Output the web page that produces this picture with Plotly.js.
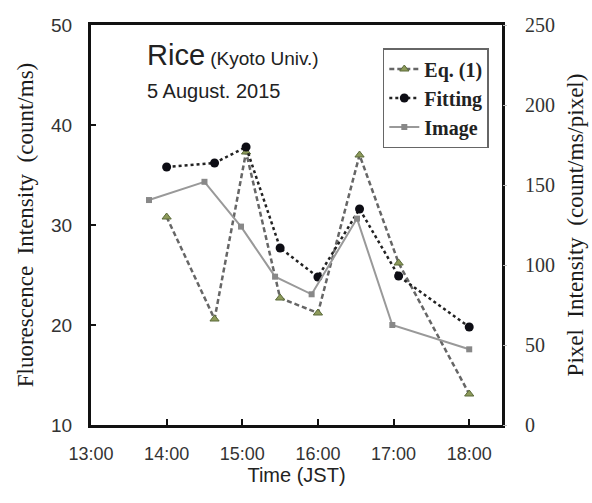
<!DOCTYPE html>
<html>
<head>
<meta charset="utf-8">
<script src="https://cdn.plot.ly/plotly-3.0.1.min.js"></script>
<style>html,body{margin:0;padding:0;background:#fff;}#chart{width:592px;height:503px;}</style>
</head>
<body>
<div id="chart"></div>
<script>
// Eq. (1) and Fitting: fluorescence intensity (count/ms), left axis
const timesModel = ['2015-08-05 14:00','2015-08-05 14:38','2015-08-05 15:03','2015-08-05 15:30','2015-08-05 16:00','2015-08-05 16:33','2015-08-05 17:04','2015-08-05 18:00'];
const eqValues   = [30.8, 20.6, 37.3, 22.7, 21.2, 37.0, 26.2, 13.1];
const fitValues  = [35.8, 36.2, 37.8, 27.7, 24.8, 31.6, 24.9, 19.8];
// Image: pixel intensity (count/ms/pixel), right axis
const timesImage = ['2015-08-05 13:46','2015-08-05 14:30','2015-08-05 14:59','2015-08-05 15:26','2015-08-05 15:55','2015-08-05 16:31','2015-08-05 16:59','2015-08-05 18:00'];
const imgValues  = [140.6, 152, 124, 92.7, 81.7, 129, 62.5, 47.3];
const leftTicks  = [10, 20, 30, 40, 50];
const rightTicks = [0, 50, 100, 150, 200, 250];

const serif = 'Liberation Serif, Times New Roman, serif';
const sans = 'Liberation Sans, Arial, sans-serif';

const traces = [
  {x: timesModel, y: eqValues, name: 'Eq. (1)', type: 'scatter', mode: 'lines+markers',
   line: {color: '#666', width: 2.5, dash: '5px,3px'},
   marker: {symbol: 'triangle-up', size: 8, color: '#8d9a5a', line: {color: '#5a6a3a', width: 1}}},
  {x: timesModel, y: fitValues, name: 'Fitting', type: 'scatter', mode: 'lines+markers',
   line: {color: '#222', width: 2.5, dash: 'dot'},
   marker: {symbol: 'circle', size: 9, color: '#0d0d14'}},
  {x: timesImage, y: imgValues, name: 'Image', type: 'scatter', mode: 'lines+markers', yaxis: 'y2',
   line: {color: '#999', width: 2},
   marker: {symbol: 'square', size: 6, color: '#888'}}
];

const layout = {
  width: 592, height: 503,
  margin: {l: 91, r: 90, t: 25, b: 78},
  paper_bgcolor: '#fff', plot_bgcolor: '#fff',
  showlegend: true,
  legend: {x: 0.71, y: 0.9425, xanchor: 'left', yanchor: 'top',
           bgcolor: '#fff', bordercolor: '#666', borderwidth: 1.5,
           font: {family: serif, size: 20, color: '#222', weight: 'bold'}, itemwidth: 30, tracegroupgap: 0},
  xaxis: {type: 'date', range: ['2015-08-05 13:00', '2015-08-05 18:26'],
          tick0: '2015-08-05 13:00', dtick: 3600000, tickformat: '%H:%M',
          showgrid: false, zeroline: false, showline: true, linecolor: '#111', linewidth: 3, mirror: true,
          ticks: 'inside', ticklen: 6, tickwidth: 2, tickcolor: '#111',
          ticklabelstandoff: 10,
          tickfont: {family: sans, size: 18, color: '#333'},
          title: {text: 'Time (JST)', font: {family: sans, size: 20, color: '#222'}, standoff: 6}},
  yaxis: {range: [10, 50], tickvals: leftTicks, showgrid: false, zeroline: false,
          showline: true, linecolor: '#111', linewidth: 3, mirror: true,
          ticks: 'inside', ticklen: 5, tickwidth: 2, tickcolor: '#111',
          ticklabelstandoff: 12,
          tickfont: {family: sans, size: 19, color: '#333'},
          title: {text: 'Fluorescence  Intensity  (count/ms)', font: {family: serif, size: 23, color: '#1a1a1a'}, standoff: 12}},
  yaxis2: {range: [0, 250], tickvals: rightTicks, overlaying: 'y', side: 'right',
           showgrid: false, zeroline: false, showline: false,
           ticks: 'outside', ticklen: 4, tickwidth: 1, tickcolor: '#bbb',
           ticklabelstandoff: 14,
           tickfont: {family: serif, size: 20, color: '#333'},
           title: {text: 'Pixel  Intensity  (count/ms/pixel)', font: {family: serif, size: 23, color: '#1a1a1a'}, standoff: 12}},
  annotations: [
    {xref: 'paper', yref: 'paper', x: 0.131, y: 0.925, xanchor: 'left', yanchor: 'middle', showarrow: false,
     text: '<span style="font-size:29px">Rice</span> (Kyoto Univ.)', font: {family: sans, size: 19, color: '#222'}},
    {xref: 'paper', yref: 'paper', x: 0.131, y: 0.835, xanchor: 'left', yanchor: 'middle', showarrow: false,
     text: '5 August. 2015', font: {family: sans, size: 20, color: '#222'}}
  ]
};

Plotly.newPlot('chart', traces, layout, {displayModeBar: false, staticPlot: true});
</script>
</body>
</html>
